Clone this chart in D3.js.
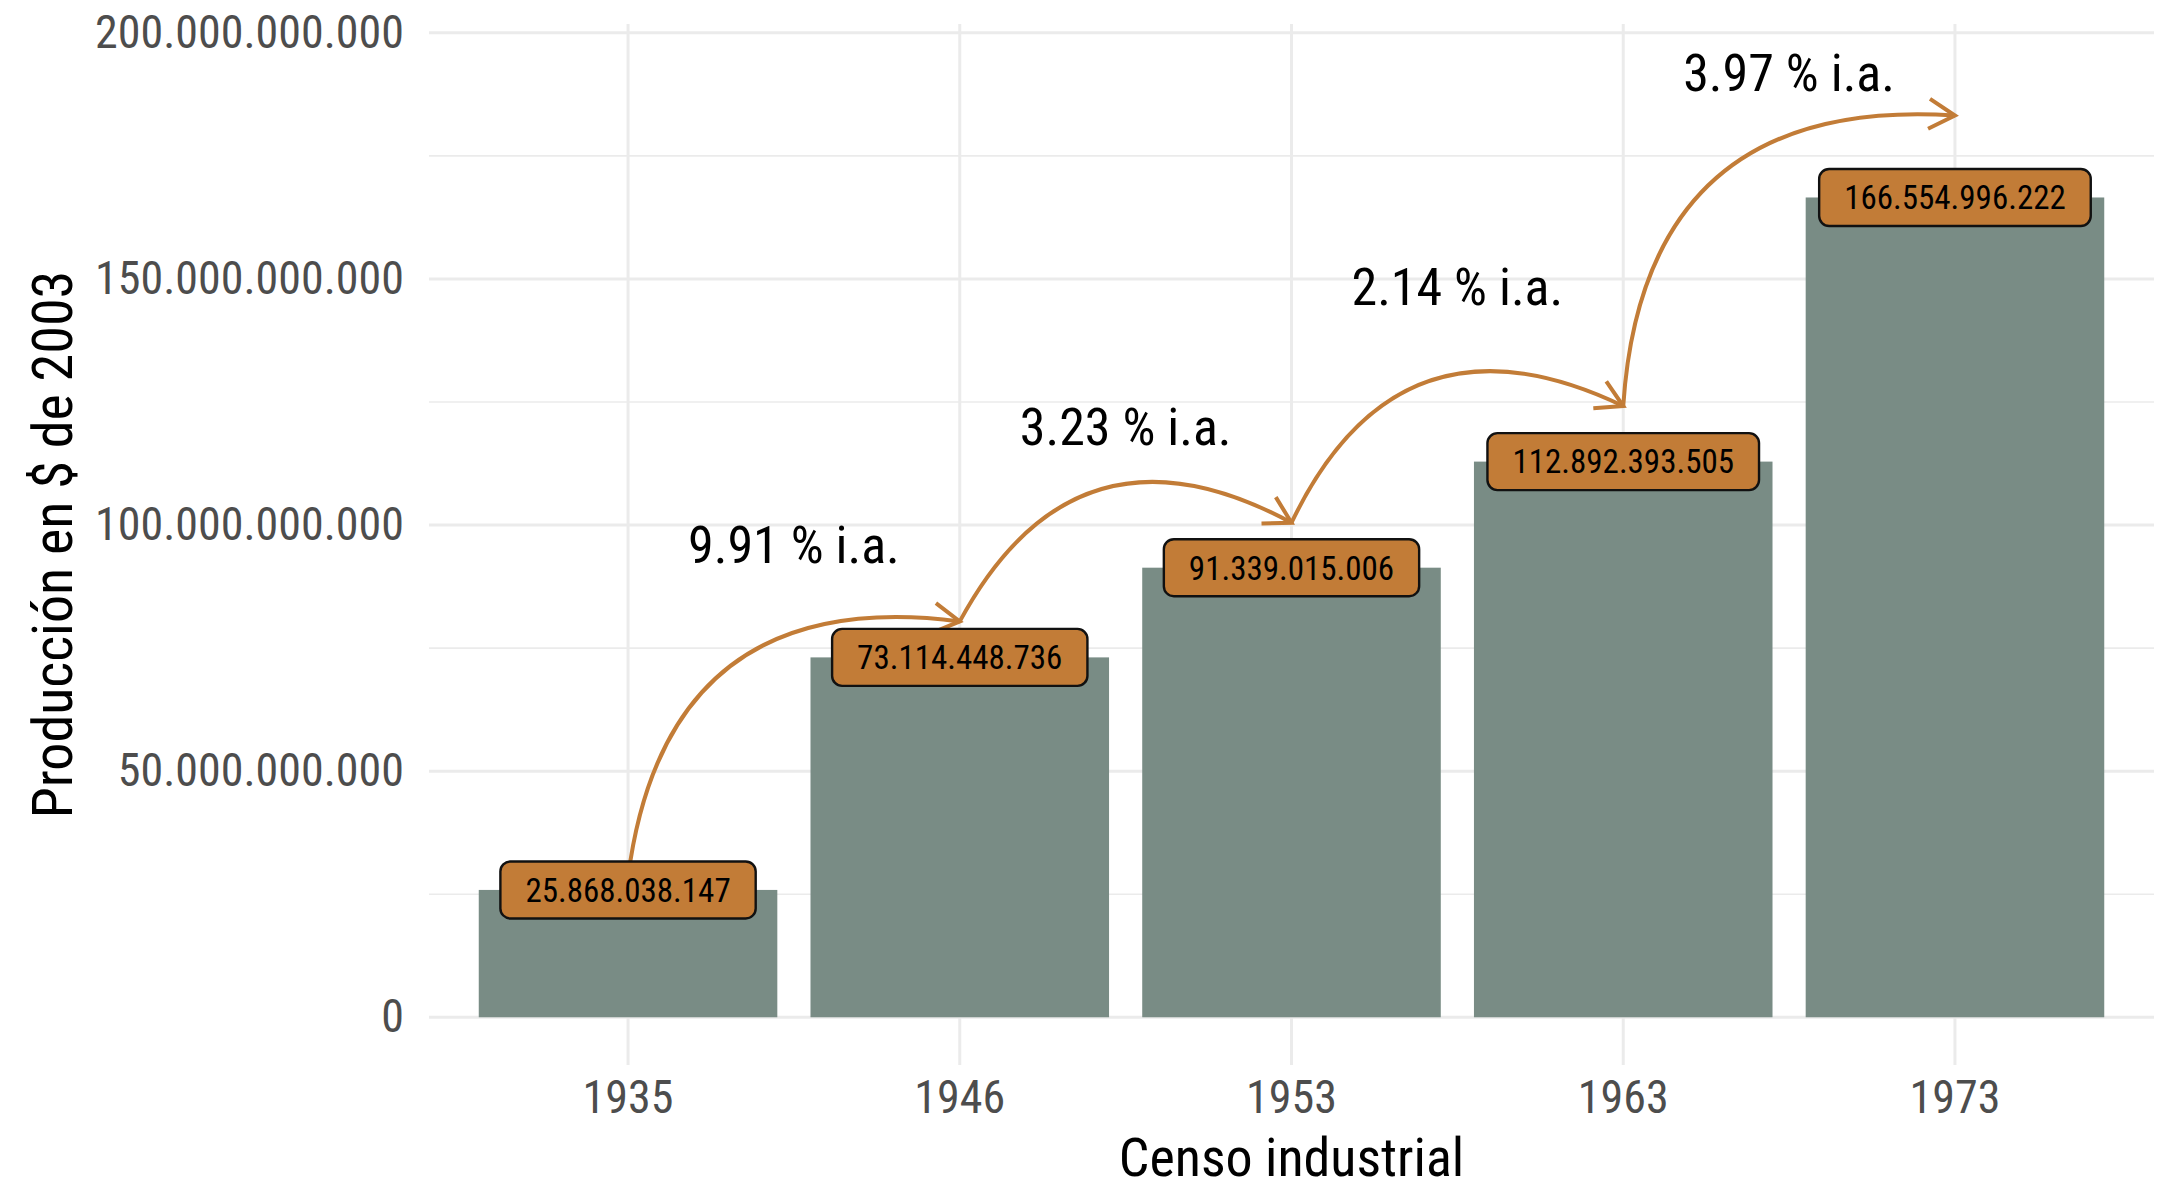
<!DOCTYPE html>
<html lang="es">
<head>
<meta charset="UTF-8">
<title>Producción industrial por censo</title>
<script src="https://d3js.org/d3.v7.min.js"></script>
<style>
    body { margin: 0; background: #ffffff; }
    svg { display: block; }
    text { font-family: "Roboto Condensed", "Liberation Sans Narrow", "DejaVu Sans Condensed", Roboto, sans-serif; font-stretch: condensed; }
</style>
</head>
<body>
<svg id="chart" width="2165" height="1189"></svg>
<script>
// datos
const years = ["1935", "1946", "1953", "1963", "1973"];
const produccion = [25868038147, 73114448736, 91339015006, 112892393505, 166554996222];
const growth = ["9.91 % i.a.", "3.23 % i.a.", "2.14 % i.a.", "3.97 % i.a."];
const growthLabelY = [96e9, 120e9, 148.5e9, 192e9];   // altura de cada rótulo de tasa (estimada)
const yTicks = [0, 50e9, 100e9, 150e9, 200e9];
const yMinorTicks = [25e9, 75e9, 125e9, 175e9];

const W = 2165, H = 1189;
const panel = { left: 429, right: 2154, top: 24, bottom: 1065 };

const barColor = "#798c85";
const accent = "#c27c37";
const gridColor = "#ebebeb";

const svg = d3.select("#chart");

const x = d3.scaleBand()
    .domain(years)
    .range([panel.left, panel.right])
    .paddingInner(0.1)
    .paddingOuter(0.15);

const y = d3.scaleLinear()
    .domain([-9.7e9, 201.8e9])
    .range([panel.bottom, panel.top]);

const cx = d => x(d) + x.bandwidth() / 2;
const fmt = v => d3.format(",")(Math.round(v)).replace(/,/g, ".");

// grilla
const grid = svg.append("g");
grid.selectAll(".minor").data(yMinorTicks).join("line")
    .attr("x1", panel.left).attr("x2", panel.right)
    .attr("y1", d => y(d)).attr("y2", d => y(d))
    .attr("stroke", gridColor).attr("stroke-width", 1.6);
grid.selectAll(".major").data(yTicks).join("line")
    .attr("x1", panel.left).attr("x2", panel.right)
    .attr("y1", d => y(d)).attr("y2", d => y(d))
    .attr("stroke", gridColor).attr("stroke-width", 3);
grid.selectAll(".vert").data(years).join("line")
    .attr("x1", cx).attr("x2", cx)
    .attr("y1", panel.top).attr("y2", panel.bottom)
    .attr("stroke", gridColor).attr("stroke-width", 3);

// ejes
const yAxis = svg.append("g")
    .attr("transform", `translate(${panel.left},0)`)
    .call(d3.axisLeft(y).tickValues(yTicks).tickFormat(fmt).tickSize(0).tickPadding(25));
yAxis.select(".domain").remove();
yAxis.selectAll("text")
    .attr("font-size", 46).attr("fill", "#4d4d4d");

const xAxis = svg.append("g")
    .attr("transform", `translate(0,${panel.bottom})`)
    .call(d3.axisBottom(x).tickSize(0).tickPadding(15));
xAxis.select(".domain").remove();
xAxis.selectAll("text")
    .attr("font-size", 46).attr("fill", "#4d4d4d")
    .attr("dy", "0.71em");
svg.selectAll(".tick text").attr("font-family", null);

// barras
svg.append("g").selectAll("rect").data(years).join("rect")
    .attr("x", d => x(d))
    .attr("width", x.bandwidth())
    .attr("y", (d, i) => y(produccion[i]))
    .attr("height", (d, i) => y(0) - y(produccion[i]))
    .attr("fill", barColor);

// flechas curvas
const arrows = svg.append("g");
for (let i = 0; i < years.length - 1; i++) {
    const x0 = cx(years[i]), y0 = y(produccion[i] * 1.1);
    const x1 = cx(years[i + 1]), y1 = y(produccion[i + 1] * 1.1);
    const dx = x1 - x0, dy = y1 - y0;
    const k = 0.5;
    const qx = (x0 + x1) / 2 + k * dy, qy = (y0 + y1) / 2 - k * dx;
    arrows.append("path")
        .attr("d", `M${x0},${y0} Q${qx},${qy} ${x1},${y1}`)
        .attr("fill", "none").attr("stroke", accent).attr("stroke-width", 4);
    const ang = Math.atan2(y1 - qy, x1 - qx);
    const len = 30, spread = Math.PI / 6;
    const p = a => [x1 - len * Math.cos(a), y1 - len * Math.sin(a)];
    const a1 = p(ang - spread), a2 = p(ang + spread);
    arrows.append("path")
        .attr("d", `M${a1[0]},${a1[1]} L${x1},${y1} L${a2[0]},${a2[1]}`)
        .attr("fill", "none").attr("stroke", accent).attr("stroke-width", 4)
        .attr("stroke-linecap", "butt").attr("stroke-linejoin", "miter");
}

// rótulos de valor
const labels = svg.append("g").selectAll("g").data(years).join("g")
    .attr("transform", (d, i) => `translate(${cx(d)},${y(produccion[i])})`);
labels.append("text")
    .attr("text-anchor", "middle")
    .attr("dy", "0.36em")
    .attr("font-size", 33)
    .attr("fill", "#000")
    .text((d, i) => fmt(produccion[i]));
labels.each(function () {
    const g = d3.select(this);
    const w = g.select("text").node().getComputedTextLength() + 50;
    const h = 57;
    g.insert("rect", "text")
        .attr("x", -w / 2).attr("y", -h / 2)
        .attr("width", w).attr("height", h)
        .attr("rx", 10).attr("ry", 10)
        .attr("fill", accent).attr("stroke", "#111").attr("stroke-width", 2.4);
});

// tasas de crecimiento
svg.append("g").selectAll("text").data(growth).join("text")
    .attr("x", (d, i) => (cx(years[i]) + cx(years[i + 1])) / 2)
    .attr("y", (d, i) => y(growthLabelY[i]))
    .attr("dy", "0.36em")
    .attr("text-anchor", "middle")
    .attr("font-size", 52)
    .attr("fill", "#000")
    .text(d => d);

// títulos de ejes
svg.append("text")
    .attr("x", (panel.left + panel.right) / 2)
    .attr("y", 1176)
    .attr("text-anchor", "middle")
    .attr("font-size", 54)
    .attr("fill", "#000")
    .text("Censo industrial");

svg.append("text")
    .attr("transform", `translate(72,${(panel.top + panel.bottom) / 2}) rotate(-90)`)
    .attr("text-anchor", "middle")
    .attr("font-size", 56)
    .attr("fill", "#000")
    .text("Producción en $ de 2003");
</script>
</body>
</html>
